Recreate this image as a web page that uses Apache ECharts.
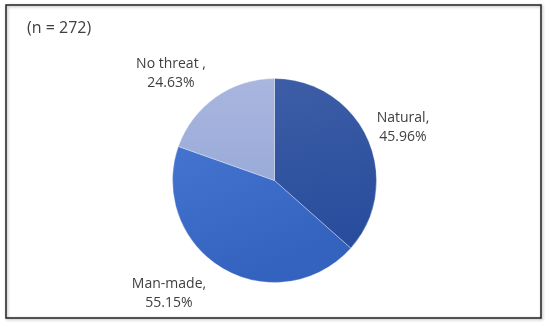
<!DOCTYPE html>
<html><head><meta charset="utf-8">
<script src="https://cdn.jsdelivr.net/npm/echarts@6/dist/echarts.min.js"></script>
<style>html,body{margin:0;padding:0;background:#fff}#c{width:550px;height:324px}</style>
</head><body><div id="c"></div>
<script>
const categories = ['Natural', 'Man-made', 'No threat '];
const values = [45.96, 55.15, 24.63];
const sampleNote = '(n = 272)';

const colors = [
  {type:'linear', x:0, y:0, x2:0.3, y2:1, colorStops:[{offset:0,color:'#3d5da6'},{offset:1,color:'#284d9c'}]},
  {type:'linear', x:0, y:0, x2:0.3, y2:1, colorStops:[{offset:0,color:'#4474cf'},{offset:1,color:'#3463bf'}]},
  {type:'linear', x:0, y:0, x2:0, y2:1, colorStops:[{offset:0,color:'#a9b6de'},{offset:1,color:'#9aabda'}]}
];
const labelPos = [[403, 128], [169, 294], [171, 74]];

const chart = echarts.init(document.getElementById('c'), null, {renderer:'canvas'});
chart.setOption({
  animation: false,
  backgroundColor: '#fff',
  graphic: [
    {type:'rect', shape:{x:6, y:5, width:535, height:313}, style:{fill:'none', stroke:'#222', lineWidth:1.5, shadowBlur:3, shadowColor:'rgba(0,0,0,0.35)', shadowOffsetX:1, shadowOffsetY:1}},
    {type:'text', x:27, y:28, style:{text: sampleNote, fontFamily:'"Open Sans", sans-serif', fontSize:16, fill:'#404040', verticalAlign:'middle', align:'left'}}
  ],
  series: [{
    type: 'pie',
    center: [274.5, 180.5],
    radius: 102,
    startAngle: 90,
    clockwise: true,
    data: categories.map((n,i)=>({name:n, value:values[i], itemStyle:{color:colors[i]}})),
    itemStyle: {borderColor:'rgba(255,255,255,0.6)', borderWidth:0.5},
    label: {
      show: true,
      formatter: p => p.name + ',\n' + p.value.toFixed(2) + '%',
      fontFamily: '"Open Sans", sans-serif',
      fontSize: 14,
      lineHeight: 19,
      color: '#404040',
      align: 'center'
    },
    labelLine: {show:false},
    labelLayout: p => ({x: labelPos[p.dataIndex][0], y: labelPos[p.dataIndex][1], align:'center', verticalAlign:'middle'})
  }]
});
</script></body></html>
